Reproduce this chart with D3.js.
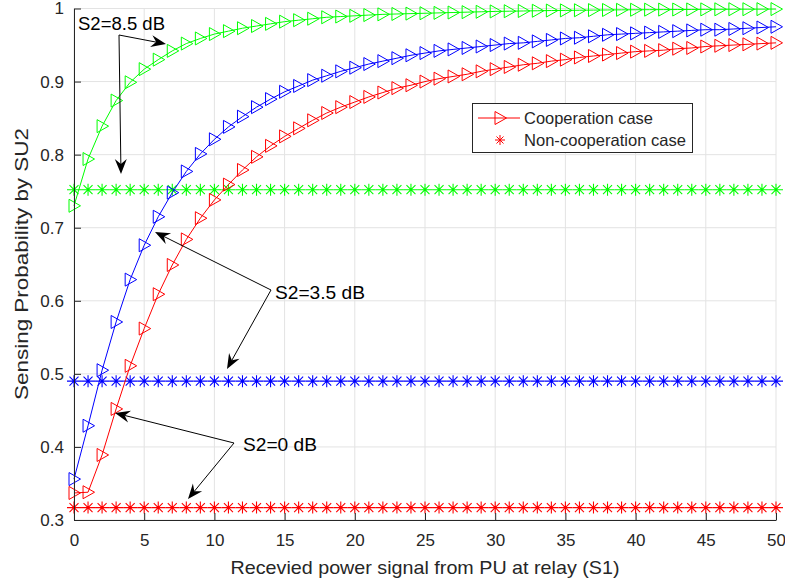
<!DOCTYPE html>
<html><head><meta charset="utf-8">
<script src="https://cdn.jsdelivr.net/npm/d3@7"></script>
<style>body{margin:0;background:#fff}svg{display:block}text{font-family:"Liberation Sans",Arial,Helvetica,sans-serif;fill:#262626}</style>
</head><body>
<script>
const xValues = d3.range(0, 51);
const coopRed = [0.337,0.338,0.389,0.452,0.511,0.562,0.609,0.649,0.684,0.713,0.738,0.759,0.779,0.797,0.812,0.825,0.836,0.847,0.857,0.865,0.872,0.879,0.885,0.891,0.895,0.900,0.904,0.907,0.910,0.914,0.917,0.920,0.923,0.925,0.928,0.930,0.933,0.935,0.937,0.939,0.941,0.942,0.943,0.945,0.946,0.948,0.949,0.950,0.951,0.952,0.953];
const coopBlue = [0.356,0.429,0.505,0.571,0.629,0.676,0.715,0.748,0.777,0.801,0.821,0.838,0.852,0.865,0.876,0.886,0.894,0.902,0.908,0.914,0.919,0.924,0.928,0.932,0.936,0.939,0.942,0.944,0.946,0.948,0.950,0.952,0.953,0.955,0.957,0.959,0.960,0.962,0.964,0.965,0.966,0.967,0.968,0.969,0.970,0.971,0.971,0.972,0.973,0.974,0.975];
const coopGreen = [0.730,0.794,0.839,0.874,0.899,0.917,0.930,0.942,0.952,0.959,0.965,0.969,0.973,0.976,0.979,0.982,0.984,0.986,0.988,0.989,0.990,0.991,0.992,0.9925,0.993,0.9935,0.994,0.9945,0.995,0.9955,0.996,0.9963,0.9966,0.9969,0.9972,0.9974,0.9976,0.9978,0.998,0.9982,0.9983,0.9984,0.9985,0.9986,0.9987,0.9988,0.9989,0.999,0.999,0.9991,0.9992];
const nonCoopRed = 0.317;
const nonCoopBlue = 0.490;
const nonCoopGreen = 0.752;
const xTicks = [0,5,10,15,20,25,30,35,40,45,50];
const yTicks = [0.3,0.4,0.5,0.6,0.7,0.8,0.9,1];
const xLabel = "Recevied power signal from PU at relay (S1)";
const yLabel = "Sensing Probability by SU2";
const legendLabels = ["Cooperation case","Non-cooperation case"];
const annotations = [
  {text:"S2=8.5 dB", tx:78, ty:24, w:87, from:[119,35], to:[[166,44],[121,174]]},
  {text:"S2=3.5 dB", tx:275, ty:293, w:90, from:[271,290], to:[[155,232],[227,369]]},
  {text:"S2=0 dB", tx:243, ty:445, w:74, from:[234,443], to:[[115,413],[188,499]]}
];

const W=785,H=585;
const svg=d3.select("body").append("svg").attr("width",W).attr("height",H);
const x=d3.scaleLinear().domain([0,50]).range([74,776]);
const y=d3.scaleLinear().domain([0.3,1]).range([520,8.5]);
const axisCol="#262626", gridCol="#e3e3e3";

// grid
const g=svg.append("g");
g.selectAll(".gx").data(xTicks).join("line").attr("x1",d=>x(d)).attr("x2",d=>x(d)).attr("y1",y(0.3)).attr("y2",y(1)).attr("stroke",gridCol);
g.selectAll(".gy").data(yTicks).join("line").attr("y1",d=>y(d)).attr("y2",d=>y(d)).attr("x1",x(0)).attr("x2",x(50)).attr("stroke",gridCol);

const series=[
  {vals:coopRed, flat:nonCoopRed, col:"#ff0000"},
  {vals:coopBlue, flat:nonCoopBlue, col:"#0000ff"},
  {vals:coopGreen, flat:nonCoopGreen, col:"#00ff00"}
];
const line=d3.line().x((d,i)=>x(xValues[i])).y(d=>y(d));
const triPath="M-5,-6.5L-5,6.5L6.5,0Z";
function star(sel){
  sel.append("path").attr("d","M-7,0H7M0,-6V6M-4.5,-4.5L4.5,4.5M-4.5,4.5L4.5,-4.5");
}
series.forEach(s=>{
  const sg=svg.append("g").attr("stroke",s.col).attr("stroke-width",1.1).attr("fill","none");
  xValues.forEach(xv=>{
    const m=sg.append("g").attr("transform",`translate(${x(xv)},${y(s.flat)})`);
    star(m);
  });
});
series.forEach(s=>{
  svg.append("path").datum(s.vals).attr("d",line).attr("fill","none").attr("stroke",s.col).attr("stroke-width",1);
  svg.append("g").selectAll("path").data(s.vals).join("path")
    .attr("transform",(d,i)=>`translate(${x(xValues[i])},${y(d)})`)
    .attr("d",triPath).attr("fill","none").attr("stroke",s.col).attr("stroke-width",1);
});

// axes
const xa=svg.append("g").attr("transform",`translate(0,${y(0.3)})`)
  .call(d3.axisBottom(x).tickValues(xTicks).tickSizeInner(-7).tickSizeOuter(0).tickPadding(14).tickFormat(d3.format("d")));
const ya=svg.append("g").attr("transform",`translate(${x(0)},0)`)
  .call(d3.axisLeft(y).tickValues(yTicks).tickSizeInner(-7).tickSizeOuter(0).tickPadding(10).tickFormat(d=>d===1?"1":d3.format(".1f")(d)));
[xa,ya].forEach(a=>{
  a.select(".domain").attr("stroke",axisCol);
  a.selectAll(".tick line").attr("stroke",axisCol);
  a.selectAll(".tick text").attr("fill",axisCol).style("font-size","17px").style("font-family",'"Liberation Sans",Arial,sans-serif');
});
svg.append("text").attr("x",425).attr("y",574).attr("text-anchor","middle").style("font-size","18.5px")
  .attr("textLength",389).attr("lengthAdjust","spacingAndGlyphs").text(xLabel);
svg.append("text").attr("transform","translate(28,264) rotate(-90)").attr("text-anchor","middle").style("font-size","18.5px")
  .attr("textLength",272).attr("lengthAdjust","spacingAndGlyphs").text(yLabel);

// legend
const lg=svg.append("g");
lg.append("rect").attr("x",472.5).attr("y",103.5).attr("width",220).attr("height",49).attr("fill","#fff").attr("stroke",axisCol);
lg.append("line").attr("x1",478).attr("x2",520).attr("y1",118).attr("y2",118).attr("stroke","#ff0000");
lg.append("path").attr("transform","translate(500,118)").attr("d",triPath).attr("fill","none").attr("stroke","#ff0000");
const ls=lg.append("g").attr("transform","translate(500,140)").attr("stroke","#ff0000").attr("fill","none");
ls.append("path").attr("d","M-5,0H5M0,-5V5M-3.5,-3.5L3.5,3.5M-3.5,3.5L3.5,-3.5");
const legW=[129,162];
lg.selectAll("text").data(legendLabels).join("text").attr("x",524).attr("y",(d,i)=>118+i*22).attr("dy","0.35em").style("font-size","16.5px")
  .attr("textLength",(d,i)=>legW[i]).attr("lengthAdjust","spacingAndGlyphs").text(d=>d);

// annotations
function arrow(p0,p1){
  const dx=p1[0]-p0[0], dy=p1[1]-p0[1], L=Math.hypot(dx,dy);
  const ux=dx/L, uy=dy/L, nx=-uy, ny=ux;
  const hl=15, hw=6, notch=5;
  const bx=p1[0]-ux*hl, by=p1[1]-uy*hl;
  svg.append("line").attr("x1",p0[0]).attr("y1",p0[1]).attr("x2",bx+ux*notch).attr("y2",by+uy*notch).attr("stroke","#000").attr("stroke-width",1);
  svg.append("path").attr("d",`M${p1[0]},${p1[1]}L${bx+nx*hw},${by+ny*hw}L${bx+ux*notch},${by+uy*notch}L${bx-nx*hw},${by-ny*hw}Z`).attr("fill","#000");
}
annotations.forEach(a=>{
  a.to.forEach(t=>arrow(a.from,t));
  svg.append("text").attr("x",a.tx).attr("y",a.ty).attr("dy","0.35em").style("font-size","17.5px").style("fill","#000")
    .attr("textLength",a.w).attr("lengthAdjust","spacingAndGlyphs").text(a.text);
});
</script>
</body></html>
